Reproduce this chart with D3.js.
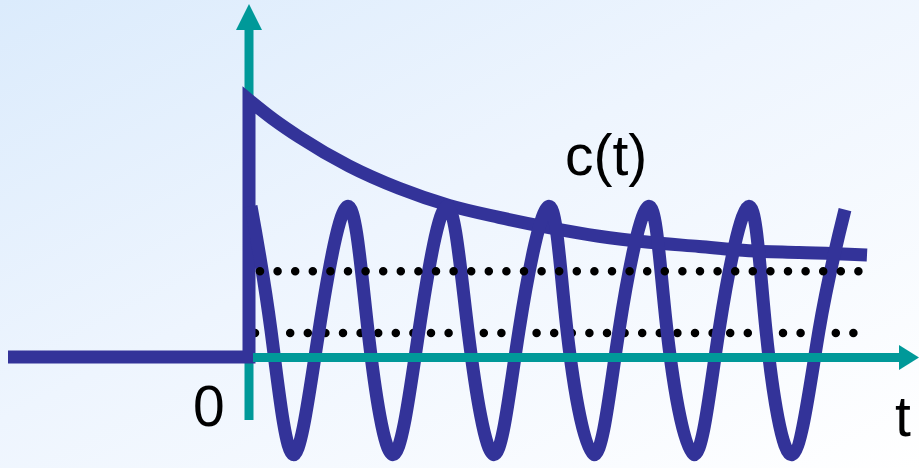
<!DOCTYPE html>
<html>
<head>
<meta charset="utf-8">
<script src="https://cdn.jsdelivr.net/npm/d3@7/dist/d3.min.js"></script>
<style>
  html, body { margin: 0; padding: 0; background: #fff; }
  svg { display: block; }
</style>
</head>
<body>
<svg id="chart" width="919" height="468"></svg>
<script>
// Step input: zero before t = 0, then a jump at t = 0
const stepT = [-2.41, 0, 0];
const stepC = [0, 0, 3];

// Decaying response c(t)
const decayT = [0, 0.25, 0.5, 1, 1.5, 2, 2.5, 3, 3.5, 4, 4.5, 5, 5.5, 6, 6.18];
const decayC = [3.0, 2.77, 2.57, 2.23, 1.97, 1.77, 1.63, 1.51, 1.41, 1.34, 1.29, 1.24, 1.22, 1.20, 1.19];

// Sustained oscillation: peaks, crossings and troughs
const oscT = [0.02, 0.22, 0.44, 0.70, 0.99, 1.19, 1.44, 1.70, 1.98, 2.19, 2.45, 2.70,
              3.00, 3.18, 3.45, 3.70, 4.00, 4.18, 4.45, 4.70, 5.00, 5.17, 5.43, 5.70, 5.96];
const oscC = [1.76, 0.31, -1.14, 0.31, 1.76, 0.31, -1.14, 0.31, 1.76, 0.31, -1.14, 0.31,
              1.76, 0.31, -1.14, 0.31, 1.76, 0.31, -1.14, 0.31, 1.76, 0.31, -1.14, 0.31, 1.72];

// Dotted reference levels
const refLevels = [1.0, 0.28];
const refStart = [0.11, 0.06];
const refEnd = [6.10, 6.06];

// Axis extents (t axis and c axis)
const tAxis = [0.04, 6.70];
const cAxis = [-0.735, 4.12];

const labelText = ["c(t)", "0", "t"];

const W = 919, H = 468;
const navy = "#333399", teal = "#009999";

const svg = d3.select("#chart");
const x = d3.scaleLinear().domain([0, 6]).range([249, 849]);
const y = d3.scaleLinear().domain([0, 3]).range([357, 100]);

// soft blue backdrop
const defs = svg.append("defs");
const grad = defs.append("linearGradient").attr("id", "bg")
  .attr("x1", 0).attr("y1", 0).attr("x2", 1).attr("y2", 1);
grad.append("stop").attr("offset", 0).attr("stop-color", "#dbebfc");
grad.append("stop").attr("offset", 0.45).attr("stop-color", "#eef5fe");
grad.append("stop").attr("offset", 1).attr("stop-color", "#ffffff");
svg.append("rect").attr("width", W).attr("height", H).attr("fill", "url(#bg)");

// vertical axis shaft + arrowhead
const cTop = cAxis[1];
const arrowLen = 26, arrowHalf = 13;
svg.append("line")
  .attr("x1", x(0)).attr("x2", x(0))
  .attr("y1", y(cAxis[0])).attr("y2", y(cTop) + arrowLen - 1)
  .attr("stroke", teal).attr("stroke-width", 9);
svg.append("path")
  .attr("d", `M${x(0)},${y(cTop)} L${x(0) - arrowHalf},${y(cTop) + arrowLen} L${x(0) + arrowHalf},${y(cTop) + arrowLen} Z`)
  .attr("fill", teal);

// dotted level lines
function dotted(i) {
  return svg.append("line")
    .attr("x1", x(refStart[i])).attr("x2", x(refEnd[i]))
    .attr("y1", y(refLevels[i])).attr("y2", y(refLevels[i]))
    .attr("stroke", "#000").attr("stroke-width", 8.5)
    .attr("stroke-linecap", "round")
    .attr("stroke-dasharray", "0,17.6");
}
dotted(1);

// step + decay drawn as one stroke so the corner is joined
const stepLine = d3.line().x(d => x(d[0])).y(d => y(d[1]));
const decayLine = d3.line().x(d => x(d[0])).y(d => y(d[1])).curve(d3.curveMonotoneX);
const stepD = stepLine(stepT.map((t, i) => [t, stepC[i]]));
const decayD = decayLine(decayT.map((t, i) => [t, decayC[i]])).replace(/^M/, "L");
svg.append("path")
  .attr("d", stepD + decayD)
  .attr("fill", "none").attr("stroke", navy).attr("stroke-width", 13)
  .attr("stroke-linejoin", "miter").attr("stroke-miterlimit", 10);

// oscillating response
const oscLine = d3.line().x(d => x(d[0])).y(d => y(d[1])).curve(d3.curveNatural);
svg.append("path")
  .attr("d", oscLine(oscT.map((t, i) => [t, oscC[i]])))
  .attr("fill", "none").attr("stroke", navy).attr("stroke-width", 13);

dotted(0);

// horizontal t axis + arrowhead
const tEnd = tAxis[1];
const hArrowLen = 20, hArrowHalf = 12.5;
svg.append("line")
  .attr("x1", x(tAxis[0])).attr("x2", x(tEnd) - hArrowLen + 1)
  .attr("y1", y(0) + 0.5).attr("y2", y(0) + 0.5)
  .attr("stroke", teal).attr("stroke-width", 9);
svg.append("path")
  .attr("d", `M${x(tEnd)},${y(0) + 0.5} L${x(tEnd) - hArrowLen},${y(0) + 0.5 - hArrowHalf} L${x(tEnd) - hArrowLen},${y(0) + 0.5 + hArrowHalf} Z`)
  .attr("fill", teal);

// labels
const font = "'Liberation Sans', Arial, sans-serif";
svg.append("text").text(labelText[0])
  .attr("x", x(3.16)).attr("y", y(2.125))
  .attr("font-family", font).attr("font-size", 57).attr("fill", "#000");
svg.append("text").text(labelText[1])
  .attr("x", x(-0.56)).attr("y", y(-0.805))
  .attr("font-family", font).attr("font-size", 57).attr("fill", "#000");
svg.append("text").text(labelText[2])
  .attr("x", x(6.46)).attr("y", y(-0.92))
  .attr("font-family", font).attr("font-size", 57).attr("fill", "#000");
</script>
</body>
</html>
